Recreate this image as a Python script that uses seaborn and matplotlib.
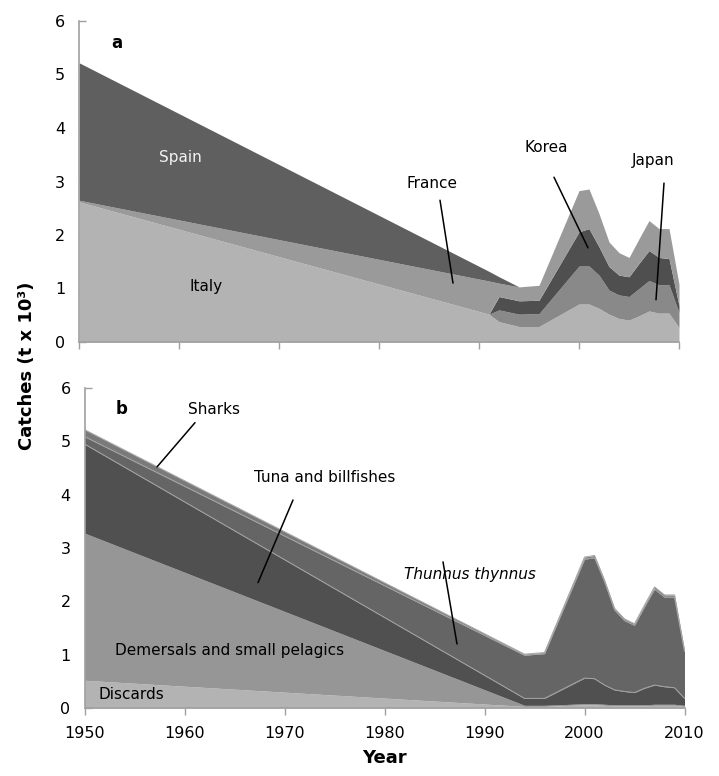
import numpy as np
import matplotlib
matplotlib.use("Agg")
import matplotlib.pyplot as plt
import seaborn as sns

sns.set_theme(style="white")
plt.rcParams['font.family'] = ['DejaVu Sans']
plt.rcParams['text.color'] = 'black'
plt.rcParams['axes.labelcolor'] = 'black'

# panel a: catches by country (t x 10^3)
years_a = [1950, 1991, 1992, 1994, 1996, 2000, 2001, 2002, 2003, 2004, 2005, 2006, 2007, 2008, 2009, 2010]
italy  = [2.62, 0.52, 0.38, 0.29, 0.29, 0.71, 0.71, 0.63, 0.52, 0.44, 0.41, 0.49, 0.58, 0.54, 0.54, 0.27]
japan  = [0.00, 0.00, 0.22, 0.23, 0.24, 0.71, 0.71, 0.62, 0.45, 0.44, 0.44, 0.51, 0.57, 0.53, 0.53, 0.28]
korea  = [0.00, 0.00, 0.25, 0.25, 0.25, 0.64, 0.70, 0.53, 0.44, 0.37, 0.37, 0.47, 0.56, 0.51, 0.49, 0.13]
france = [0.03, 0.62, 0.25, 0.26, 0.28, 0.77, 0.74, 0.62, 0.46, 0.42, 0.36, 0.46, 0.56, 0.54, 0.56, 0.40]
spain  = [2.57, 0.18, 0.12, 0.00, 0.00, 0.00, 0.00, 0.00, 0.00, 0.00, 0.00, 0.00, 0.00, 0.00, 0.00, 0.00]

# panel b: catches by taxon
years_b = [1950, 1994, 1996, 2000, 2001, 2002, 2003, 2004, 2005, 2006, 2007, 2008, 2009, 2010]
discards  = [0.52, 0.03, 0.03, 0.06, 0.06, 0.05, 0.04, 0.04, 0.04, 0.04, 0.05, 0.05, 0.05, 0.03]
demersals = [2.76, 0.02, 0.02, 0.02, 0.02, 0.02, 0.02, 0.02, 0.02, 0.02, 0.02, 0.02, 0.02, 0.02]
tuna      = [1.67, 0.13, 0.13, 0.48, 0.47, 0.36, 0.28, 0.25, 0.23, 0.31, 0.36, 0.33, 0.31, 0.13]
thunnus   = [0.14, 0.81, 0.84, 2.23, 2.27, 1.94, 1.50, 1.33, 1.26, 1.53, 1.80, 1.68, 1.70, 0.88]
sharks    = [0.13, 0.02, 0.02, 0.04, 0.04, 0.03, 0.03, 0.03, 0.03, 0.03, 0.04, 0.04, 0.04, 0.02]

fig = plt.figure(figsize=(7.19, 7.76), dpi=100)
ax1 = fig.add_axes([79/719, 1 - 342/776, 600/719, 321/776])
ax2 = fig.add_axes([84.5/719, 1 - 708/776, 600/719, 320/776])

ax1.stackplot(years_a, italy, japan, korea, france, spain,
              colors=['#b3b3b3', '#898989', '#4f4f4f', '#9a9a9a', '#5f5f5f'], lw=0)

ax2.stackplot(years_b, discards, demersals, tuna, thunnus, sharks,
              colors=['#b3b3b3', '#969696', '#505050', '#656565', '#7a7a7a'], lw=0)
cum = np.cumsum([discards, demersals, tuna, thunnus, sharks], axis=0)
for row in (cum[2], cum[3], cum[4]):
    ax2.plot(years_b, row, color='#a5a5a5', lw=0.7)

for ax in (ax1, ax2):
    ax.set_xlim(1950, 2010)
    ax.set_ylim(0, 6)
    ax.set_xticks(range(1950, 2011, 10))
    ax.set_yticks(range(0, 7))
    sns.despine(ax=ax)
    for s in ('left', 'bottom'):
        ax.spines[s].set_color('#a0a0a0')
        ax.spines[s].set_linewidth(1.2)
    ax.tick_params(axis='x', direction='out', length=5, color='#a0a0a0', width=1,
                   labelsize=11.5, pad=8, bottom=True, labelcolor='black')
    ax.tick_params(axis='y', direction='in', length=5, color='#a0a0a0', width=1,
                   labelsize=11.5, pad=10, left=True, labelcolor='black')
    ax.grid(False)
ax1.set_xticklabels([])

lw = 1.1
# panel a labels
ax1.text(1953.8, 5.59, 'a', fontsize=12, fontweight='bold', ha='center', va='center')
ax1.text(1960.1, 3.44, 'Spain', fontsize=11, color='#f2f2f2', ha='center', va='center')
ax1.text(1962.7, 1.03, 'Italy', fontsize=11, ha='center', va='center')
ax1.text(1985.3, 2.97, 'France', fontsize=11, ha='center', va='center')
ax1.plot([1986.1, 1987.4], [2.65, 1.10], color='black', lw=lw)
ax1.text(1996.7, 3.63, 'Korea', fontsize=11, ha='center', va='center')
ax1.plot([1997.5, 2000.9], [3.08, 1.76], color='black', lw=lw)
ax1.text(2007.4, 3.40, 'Japan', fontsize=11, ha='center', va='center')
ax1.plot([2008.5, 2007.7], [2.97, 0.79], color='black', lw=lw)

# panel b labels
ax2.text(1953.75, 5.61, 'b', fontsize=12, fontweight='bold', ha='center', va='center')
ax2.text(1962.95, 5.59, 'Sharks', fontsize=11, ha='center', va='center')
ax2.plot([1961.05, 1957.25], [5.35, 4.52], color='black', lw=lw)
ax2.text(1974.05, 4.32, 'Tuna and billfishes', fontsize=11, ha='center', va='center')
ax2.plot([1970.85, 1967.35], [3.90, 2.35], color='black', lw=lw)
ax2.text(1988.55, 2.51, 'Thunnus thynnus', fontsize=11, style='italic', ha='center', va='center')
ax2.plot([1985.85, 1987.25], [2.74, 1.20], color='black', lw=lw)
ax2.text(1964.55, 1.07, 'Demersals and small pelagics', fontsize=11, ha='center', va='center')
ax2.text(1954.65, 0.26, 'Discards', fontsize=11, ha='center', va='center')

ax2.set_xlabel('Year', fontsize=13, fontweight='bold', labelpad=6)
fig.text(27/719, 1 - 366/776, 'Catches (t x 10³)', rotation=90, fontsize=13,
         fontweight='bold', ha='center', va='center')

fig.savefig('out.png', dpi=100)
